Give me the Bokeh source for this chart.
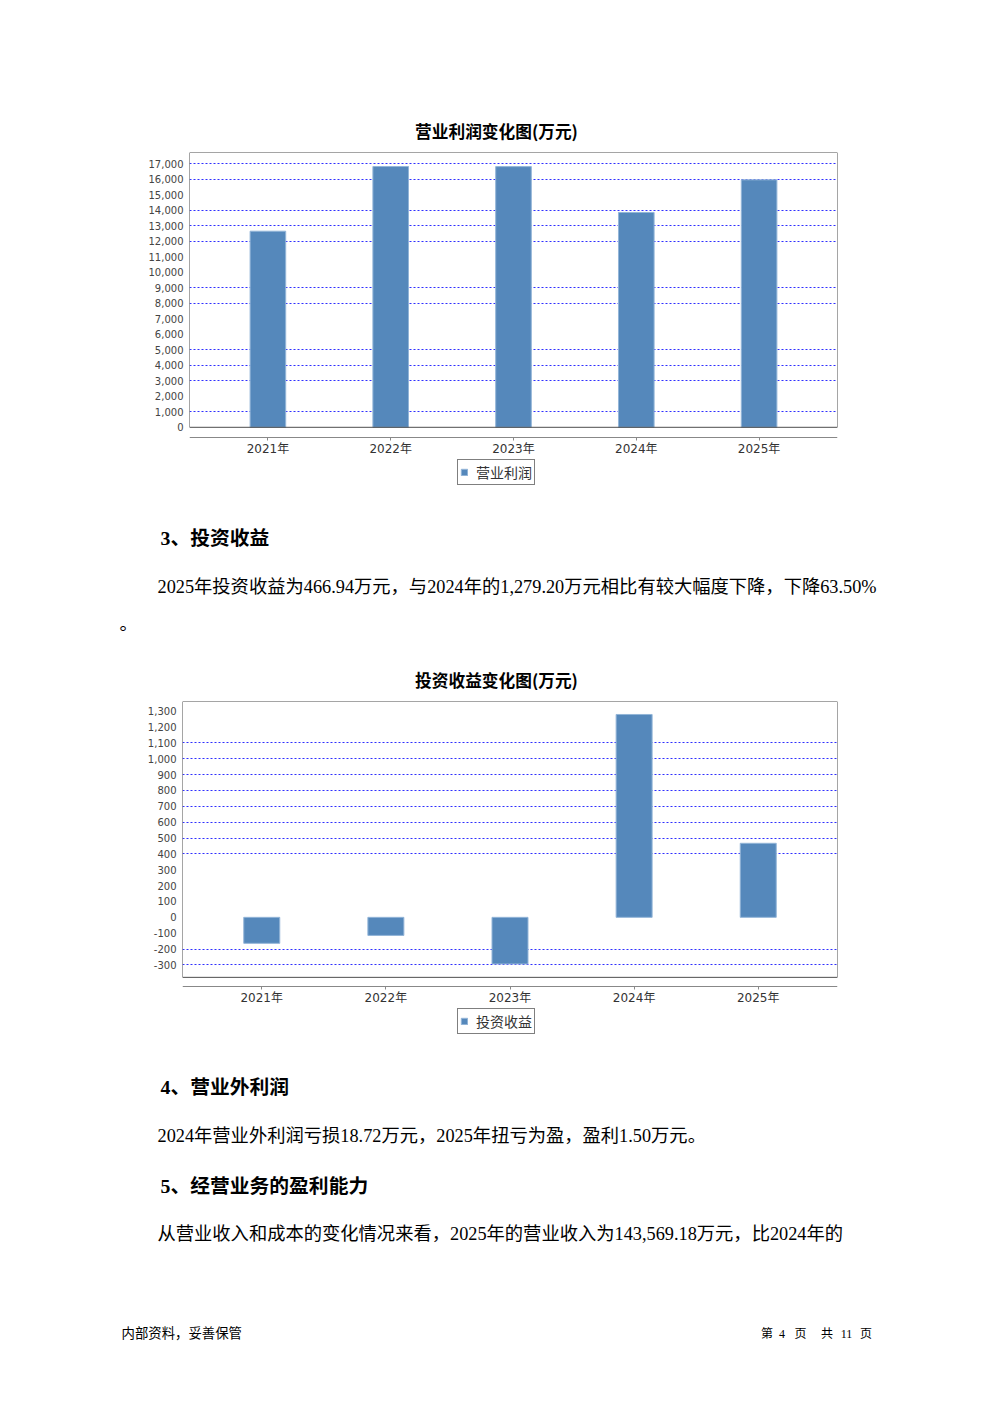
from bokeh.plotting import figure
from bokeh.models import (FactorRange, Range1d, FixedTicker, NumeralTickFormatter,
                          BoxAnnotation, Legend, LegendItem)
from bokeh.embed import file_html
from bokeh.resources import INLINE
from bokeh.core.properties import value

# ---------------- data ----------------
years = ["2021年", "2022年", "2023年", "2024年", "2025年"]

op_title = "营业利润变化图(万元)"
op_series = "营业利润"
op_profit = [12660, 16835, 16830, 13870, 15975]
op_ticks = list(range(0, 17001, 1000))
op_grid = [17000, 16000, 14000, 13000, 12000, 9000, 8000, 5000, 4000, 3000, 1000]

inv_title = "投资收益变化图(万元)"
inv_series = "投资收益"
inv_income = [-164, -114, -294, 1279.20, 466.94]
inv_ticks = list(range(-300, 1301, 100))
inv_grid = [1100, 1000, 900, 800, 700, 600, 500, 400, -200, -300]

heading3 = "3、投资收益"
para3 = "2025年投资收益为466.94万元，与2024年的1,279.20万元相比有较大幅度下降，下降63.50%"
para3_tail = "。"
heading4 = "4、营业外利润"
para4 = "2024年营业外利润亏损18.72万元，2025年扭亏为盈，盈利1.50万元。"
heading5 = "5、经营业务的盈利能力"
para5 = "从营业收入和成本的变化情况来看，2025年的营业收入为143,569.18万元，比2024年的"
footer_left = "内部资料，妥善保管"
footer_right = ["第", "4", "页", "共", "11", "页"]

# ---------------- styles ----------------
W = 992
CJK = "'Noto Sans CJK SC'"
BODY = "'Liberation Serif', 'Noto Sans CJK SC'"
TICKF = "'DejaVu Sans', 'Noto Sans CJK SC'"
BAR = "#5588bb"
BAR_EDGE = "#93b5d8"
GRID = "#2f2fff"


def text_fig(h):
    p = figure(width=W, height=h, x_range=Range1d(0, W), y_range=Range1d(h, 0),
               x_axis_type=None, y_axis_type=None, output_backend="svg",
               toolbar_location=None, min_border=0)
    p.grid.visible = False
    p.outline_line_color = None
    return p


def put(p, x, y, s, size, font=BODY, style="normal", align="left", color="#000000"):
    p.text(x=[x], y=[y], text=[s], text_font=value(font), text_font_size=size,
           text_font_style=style, text_align=align, text_baseline="middle",
           text_color=color)


def bar_chart(vals, ticks, grid, ymin, ymax, box_bottom, axis_at, top, left, right,
              label, legend_x):
    # frame covers plot area + category axis + legend strip
    p = figure(frame_width=W - left - right, frame_height=340,
               x_range=FactorRange(factors=years, range_padding=0.1385,
                                   range_padding_units="absolute"),
               y_range=Range1d(ymin, ymax), output_backend="svg", toolbar_location=None,
               min_border_top=top, min_border_left=left, min_border_right=right,
               min_border_bottom=8)
    p.outline_line_color = None
    r = p.vbar(x=years, top=vals, bottom=0, width=0.29, fill_color=BAR,
               line_color=BAR_EDGE, line_width=1)
    p.xgrid.visible = False
    p.ygrid.ticker = FixedTicker(ticks=grid)
    p.ygrid.grid_line_color = GRID
    p.ygrid.grid_line_dash = "2 2"
    p.ygrid.grid_line_width = 1

    ya = p.yaxis[0]
    ya.ticker = FixedTicker(ticks=ticks)
    ya.formatter = NumeralTickFormatter(format="0,0")
    ya.axis_line_color = None
    ya.major_tick_line_color = None
    ya.major_tick_out = 0
    ya.major_tick_in = 0
    ya.minor_tick_line_color = None
    ya.minor_tick_out = 0
    ya.major_label_standoff = 6
    ya.major_label_text_font = TICKF
    ya.major_label_text_font_size = "10px"
    ya.major_label_text_color = "#444444"

    xa = p.xaxis[0]
    xa.fixed_location = axis_at
    xa.axis_line_color = "#888888"
    xa.major_tick_line_color = "#888888"
    xa.major_tick_out = 3
    xa.major_tick_in = 0
    xa.major_label_standoff = 2
    xa.major_label_text_font = TICKF
    xa.major_label_text_font_size = "12px"
    xa.major_label_text_color = "#333333"

    box = BoxAnnotation(bottom=box_bottom, fill_alpha=0, line_color="#4d4d4d",
                        line_alpha=1, line_width=1)
    p.add_layout(box)

    legend = Legend(items=[LegendItem(label=label, renderers=[r])],
                    location=(legend_x, 7), orientation="horizontal",
                    padding=2, margin=0, spacing=0, glyph_width=8, glyph_height=8,
                    label_standoff=8, label_height=11,
                    border_line_color="#000000", border_line_width=1,
                    label_text_font=CJK, label_text_font_size="14px",
                    label_text_color="#333333")
    p.add_layout(legend, "center")
    return p


# ---------------- sections ----------------
s0 = text_fig(145)
put(s0, 496, 130, op_title, "16.7px", font=CJK, style="bold", align="center")

c1 = bar_chart(op_profit, op_ticks, op_grid, -4209, 17740, 0, -658, 7, 189, 155,
               op_series, 268)

s2 = text_fig(190)
put(s2, 160, 37, heading3, "19.8px", style="bold")
put(s2, 157, 86, para3, "18.3px")
put(s2, 119, 123, para3_tail, "18.3px")
put(s2, 496, 179, inv_title, "16.7px", font=CJK, style="bold", align="center")

c2 = bar_chart(inv_income, inv_ticks, inv_grid, -783, 1361, -378.5, -435, 11, 182, 155,
               inv_series, 275)

s4 = text_fig(354)
put(s4, 160, 37, heading4, "19.8px", style="bold")
put(s4, 157, 86, para4, "18.3px")
put(s4, 160, 136, heading5, "19.8px", style="bold")
put(s4, 157, 184, para5, "18.3px")
put(s4, 121, 284, footer_left, "13.4px")
for xx, piece in zip([766.5, 781.5, 800, 826.5, 846, 865.5], footer_right):
    put(s4, xx, 284, piece, "12px", align="center")

open("out.html", "w").write(file_html([s0, c1, s2, c2, s4], INLINE))
